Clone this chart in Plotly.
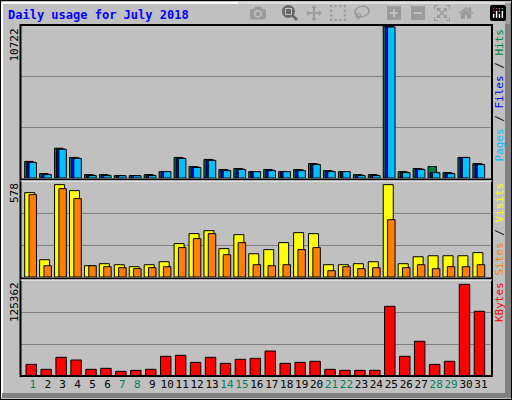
import plotly.graph_objects as go

days = list(range(1, 32))
weekend = [1, 7, 8, 14, 15, 21, 22, 28, 29]
hits = [1170, 310, 2100, 1450, 240, 240, 170, 170, 240, 450, 1450, 810, 1310, 600, 670,
        450, 600, 450, 600, 1020, 520, 450, 240, 240, 10722, 450, 670, 810, 380, 1450, 1020]
files = [1120, 270, 2050, 1410, 200, 200, 160, 160, 200, 450, 1410, 770, 1270, 560, 630,
         450, 560, 450, 560, 980, 480, 450, 200, 200, 10690, 410, 630, 380, 340, 1450, 980]
pages = [1095, 240, 2020, 1380, 170, 170, 160, 160, 170, 450, 1380, 740, 1240, 520, 600,
         450, 520, 450, 520, 950, 450, 450, 170, 170, 10650, 380, 600, 380, 310, 1450, 950]
visits = [508, 104, 556, 520, 68, 80, 74, 62, 74, 92, 201, 261, 279, 171, 255,
          140, 165, 207, 267, 261, 74, 74, 80, 92, 556, 80, 122, 128, 128, 128, 147]
sites = [496, 68, 532, 472, 68, 62, 56, 50, 56, 62, 177, 231, 261, 134, 207,
         74, 68, 74, 165, 177, 38, 62, 50, 56, 345, 56, 74, 50, 62, 62, 74]
kbytes = [15200, 8700, 24400, 20900, 8700, 10000, 6100, 7400, 8700, 25700, 27000, 17800,
          24400, 16500, 21800, 23100, 32600, 16500, 17800, 19200, 8700, 7400, 7400, 7400,
          91000, 25700, 45300, 15200, 19200, 119700, 84500]
max_hits, max_visits, max_kb = 10722, 578, 125362

W, H = 512, 400
def px(x): return x / W
def py(y): return 1 - y / H

mono = "DejaVu Sans Mono"
fig = go.Figure()
line = dict(color="black", width=1)
def bar(y, color, off, wid, xa, ya):
    fig.add_trace(go.Bar(x=days, y=y, marker=dict(color=color, line=line),
                         offset=off, width=wid, xaxis=xa, yaxis=ya, showlegend=False))
bar(hits, "#008040", -0.54, 0.56, "x2", "y")
bar(files, "#0000FF", -0.4, 0.55, "x2", "y")
bar(pages, "#00C0FF", -0.25, 0.5, "x2", "y")
bar(visits, "#FFFF00", -0.54, 0.67, "x3", "y2")
bar(sites, "#FF8000", -0.25, 0.5, "x3", "y2")
bar(kbytes, "#FF0000", -0.45, 0.7, "x", "y3")

xr = [0.18, 31.74]
dom = [px(20.5), px(492)]
ticktext = [f"<span style='color:{'#008060' if d in weekend else 'black'}'>{d}</span>" for d in days]
fig.update_layout(
    width=W, height=H, margin=dict(l=0, r=0, t=0, b=0),
    paper_bgcolor="#C0C0C0", plot_bgcolor="#C0C0C0", barmode="overlay",
    xaxis=dict(domain=dom, range=xr, anchor="y3", tickvals=days, ticktext=ticktext, tickangle=0,
               tickfont=dict(family=mono, size=11), ticks="", ticklen=0, showgrid=False, zeroline=False),
    xaxis2=dict(domain=dom, range=xr, anchor="y", visible=False),
    xaxis3=dict(domain=dom, range=xr, anchor="y2", visible=False),
    yaxis=dict(domain=[py(178), py(26)], range=[0, max_hits], tickvals=[max_hits/3, 2*max_hits/3],
               showticklabels=False, gridcolor="#808080", zeroline=False),
    yaxis2=dict(domain=[py(277), py(181)], range=[0, max_visits], tickvals=[max_visits/3, 2*max_visits/3],
                showticklabels=False, gridcolor="#808080", zeroline=False),
    yaxis3=dict(domain=[py(376), py(280)], range=[0, max_kb], tickvals=[max_kb/3, 2*max_kb/3],
                showticklabels=False, gridcolor="#808080", zeroline=False),
)

shapes = []
shapes.append(dict(type="rect", xref="paper", yref="paper", x0=0, x1=1, y0=0, y1=1,
                   line=dict(color="black", width=2)))
shapes.append(dict(type="line", xref="paper", yref="paper", x0=px(2), x1=px(2), y0=py(3), y1=py(397),
                   line=dict(color="white", width=2)))
shapes.append(dict(type="line", xref="paper", yref="paper", x0=px(2), x1=px(505), y0=py(3), y1=py(3),
                   line=dict(color="white", width=2)))
shapes.append(dict(type="rect", xref="paper", yref="paper", x0=px(505), x1=px(511), y0=py(397), y1=py(3),
                   fillcolor="#808080", line=dict(width=0)))
shapes.append(dict(type="rect", xref="paper", yref="paper", x0=px(2), x1=px(511), y0=py(398), y1=py(393),
                   fillcolor="#808080", line=dict(width=0)))
shapes.append(dict(type="rect", xref="paper", yref="paper", x0=px(20.5), x1=px(492), y0=py(376), y1=py(25),
                   line=dict(color="black", width=2)))
for yy in (179.5, 278.5):
    shapes.append(dict(type="line", xref="paper", yref="paper", x0=px(20.5), x1=px(492), y0=py(yy), y1=py(yy),
                       line=dict(color="black", width=2)))
    shapes.append(dict(type="line", xref="paper", yref="paper", x0=px(20.5), x1=px(492), y0=py(yy+1.5), y1=py(yy+1.5),
                       line=dict(color="white", width=1)))
fig.update_layout(shapes=shapes)

ann = []
ann.append(dict(text="<b>Daily usage for July 2018</b>", x=px(6), y=py(15), xref="paper", yref="paper",
                xanchor="left", yanchor="middle", showarrow=False, font=dict(family=mono, size=12, color="#0000FF")))
for label, ytop in ((str(max_hits), 27), (str(max_visits), 181), (str(max_kb), 280)):
    ann.append(dict(text=label, x=px(14), y=py(ytop), xref="paper", yref="paper", textangle=-90,
                    xanchor="center", yanchor="top", showarrow=False, font=dict(family=mono, size=11, color="black")))
right = [
    ("<span style='color:#00C0FF'>Pages</span> / <span style='color:#0000FF'>Files</span> / <span style='color:#008040'>Hits</span>", 27),
    ("<span style='color:#FF8000'>Sites</span> / <span style='color:#FFFF00'>Visits</span>", 181),
    ("<span style='color:#FF0000'>KBytes</span>", 280),
]
for t, ytop in right:
    ann.append(dict(text=t, x=px(499), y=py(ytop), xref="paper", yref="paper", textangle=-90,
                    xanchor="center", yanchor="top", showarrow=False, font=dict(family=mono, size=11, color="black")))
fig.update_layout(annotations=ann)
fig.write_html("out.html", post_script="document.body.style.margin='0';document.body.style.overflow='hidden';")
